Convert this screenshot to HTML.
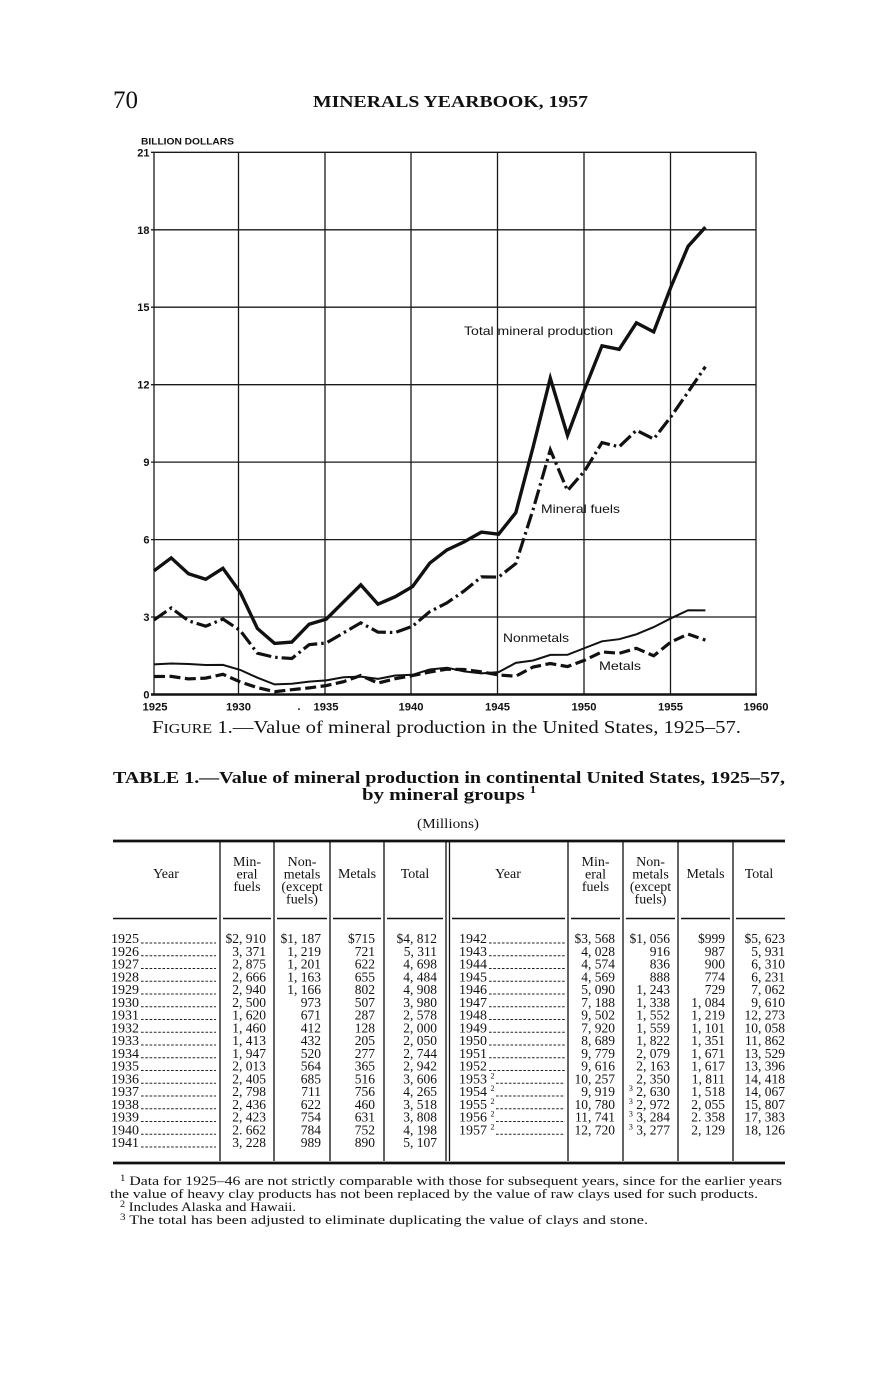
<!DOCTYPE html>
<html><head><meta charset="utf-8"><style>
html,body{margin:0;padding:0;background:#fff;}
svg{display:block;}
.serif{font-family:"Liberation Serif",serif;fill:#111;}
.sans{font-family:"Liberation Sans",sans-serif;fill:#111;}
</style></head><body>
<svg width="872" height="1380" viewBox="0 0 872 1380" xmlns="http://www.w3.org/2000/svg">
<rect width="872" height="1380" fill="#fff"/>
<!-- page header -->
<text class="serif" x="113" y="108" font-size="25">70</text>
<text class="serif" x="313" y="107" font-size="17" font-weight="bold" textLength="275" lengthAdjust="spacingAndGlyphs">MINERALS YEARBOOK, 1957</text>

<!-- chart -->
<text class="sans" x="141" y="144.5" font-size="9.5" font-weight="bold" textLength="93" lengthAdjust="spacingAndGlyphs">BILLION DOLLARS</text>
<g stroke="#1a1a1a" stroke-width="1.3" fill="none">
  <line x1="151" y1="152.3" x2="756" y2="152.3"/>
  <line x1="151" y1="229.8" x2="756" y2="229.8"/>
  <line x1="151" y1="307.2" x2="756" y2="307.2"/>
  <line x1="151" y1="384.7" x2="756" y2="384.7"/>
  <line x1="151" y1="462.1" x2="756" y2="462.1"/>
  <line x1="151" y1="539.6" x2="756" y2="539.6"/>
  <line x1="151" y1="617.0" x2="756" y2="617.0"/>
  <line x1="154" y1="152.3" x2="154" y2="694.5"/>
  <line x1="238.5" y1="152.3" x2="238.5" y2="694.5"/>
  <line x1="325" y1="152.3" x2="325" y2="694.5"/>
  <line x1="411" y1="152.3" x2="411" y2="694.5"/>
  <line x1="497.5" y1="152.3" x2="497.5" y2="694.5"/>
  <line x1="584" y1="152.3" x2="584" y2="694.5"/>
  <line x1="670.5" y1="152.3" x2="670.5" y2="694.5"/>
  <line x1="756" y1="152.3" x2="756" y2="694.5"/>
</g>
<line x1="151" y1="694.5" x2="757" y2="694.5" stroke="#111" stroke-width="2.6"/>
<g class="sans" font-size="11" font-weight="bold" text-anchor="end">
  <text x="149.5" y="156.3">21</text>
  <text x="149.5" y="233.8">18</text>
  <text x="149.5" y="311.2">15</text>
  <text x="149.5" y="388.7">12</text>
  <text x="149.5" y="466.1">9</text>
  <text x="149.5" y="543.6">6</text>
  <text x="149.5" y="621">3</text>
  <text x="149.5" y="698.5">0</text>
</g>
<g class="sans" font-size="11" font-weight="bold" text-anchor="middle">
  <text x="155" y="710.5" textLength="25" lengthAdjust="spacingAndGlyphs">1925</text>
  <text x="238.5" y="710.5" textLength="25" lengthAdjust="spacingAndGlyphs">1930</text>
  <text x="326" y="710.5" textLength="25" lengthAdjust="spacingAndGlyphs">1935</text>
  <text x="411" y="710.5" textLength="25" lengthAdjust="spacingAndGlyphs">1940</text>
  <text x="497.5" y="710.5" textLength="25" lengthAdjust="spacingAndGlyphs">1945</text>
  <text x="584" y="710.5" textLength="25" lengthAdjust="spacingAndGlyphs">1950</text>
  <text x="670.5" y="710.5" textLength="25" lengthAdjust="spacingAndGlyphs">1955</text>
  <text x="756" y="710.5" textLength="25" lengthAdjust="spacingAndGlyphs">1960</text>
  <text x="299" y="710">.</text>
</g>

<g transform="translate(2,1)" fill="none" stroke="#111">
  <polyline stroke-width="3.4" stroke-linejoin="miter" points="152.0,569.8 169.2,556.9 186.5,572.7 203.7,578.3 220.9,567.3 238.2,591.3 255.4,627.5 272.6,642.4 289.8,641.1 307.1,623.2 324.3,618.1 341.5,600.9 358.8,583.9 376.0,603.2 393.2,595.7 410.5,585.6 427.7,562.2 444.9,548.9 462.1,540.9 479.4,531.1 496.6,533.2 513.8,511.7 531.1,446.0 548.3,377.2 565.5,434.4 582.8,387.8 600.0,344.8 617.2,348.3 634.4,321.9 651.7,330.9 668.9,286.0 686.1,245.3 703.4,226.2"/>
  <polyline stroke-width="3.2" stroke-dasharray="15 4 2.5 4" points="152.0,618.9 169.2,607.0 186.5,619.8 203.7,625.2 220.9,618.1 238.2,629.5 255.4,652.2 272.6,656.3 289.8,657.5 307.1,643.7 324.3,642.0 341.5,631.9 358.8,621.8 376.0,631.1 393.2,631.5 410.5,625.3 427.7,610.7 444.9,601.9 462.1,590.0 479.4,575.9 496.6,576.1 513.8,562.6 531.1,508.5 548.3,448.8 565.5,489.6 582.8,469.7 600.0,441.6 617.2,445.8 634.4,429.3 651.7,438.0 668.9,415.8 686.1,391.0 703.4,365.7"/>
  <polyline stroke-width="2" points="152.0,663.4 169.2,662.5 186.5,663.0 203.7,664.0 220.9,663.9 238.2,668.9 255.4,676.7 272.6,683.4 289.8,682.8 307.1,680.6 324.3,679.4 341.5,676.3 358.8,675.6 376.0,677.9 393.2,674.5 410.5,673.8 427.7,668.5 444.9,666.7 462.1,670.4 479.4,672.4 496.6,671.1 513.8,661.9 531.1,659.5 548.3,653.9 565.5,653.8 582.8,647.0 600.0,640.3 617.2,638.2 634.4,633.3 651.7,626.1 668.9,617.3 686.1,609.2 703.4,609.4"/>
  <polyline stroke-width="3.2" stroke-dasharray="11 4.5" points="152.0,675.5 169.2,675.4 186.5,677.9 203.7,677.1 220.9,673.3 238.2,680.9 255.4,686.6 272.6,690.7 289.8,688.7 307.1,686.9 324.3,684.6 341.5,680.7 358.8,674.5 376.0,682.1 393.2,677.7 410.5,674.6 427.7,671.0 444.9,668.2 462.1,668.5 479.4,670.8 496.6,674.0 513.8,675.2 531.1,666.0 548.3,662.5 565.5,665.6 582.8,659.1 600.0,650.9 617.2,652.3 634.4,647.3 651.7,654.8 668.9,641.0 686.1,633.1 703.4,639.1"/>
</g>
<g class="sans" font-size="12">
  <text x="464" y="335" textLength="149" lengthAdjust="spacingAndGlyphs">Total mineral production</text>
  <text x="541" y="513" textLength="79" lengthAdjust="spacingAndGlyphs">Mineral fuels</text>
  <text x="503" y="642" textLength="66" lengthAdjust="spacingAndGlyphs">Nonmetals</text>
  <text x="599" y="670" textLength="42" lengthAdjust="spacingAndGlyphs">Metals</text>
</g>

<!-- caption -->
<text class="serif" x="152" y="733" font-size="17.5" textLength="589" lengthAdjust="spacingAndGlyphs">F<tspan font-size="13.5">IGURE</tspan> 1.—Value of mineral production in the United States, 1925–57.</text>

<!-- table title -->
<text class="serif" x="113" y="783" font-size="17" font-weight="bold" textLength="672" lengthAdjust="spacingAndGlyphs">TABLE 1.—Value of mineral production in continental United States, 1925–57,</text>
<text class="serif" x="362" y="800" font-size="17" font-weight="bold" textLength="174" lengthAdjust="spacingAndGlyphs">by mineral groups <tspan font-size="10" dy="-7">1</tspan></text>
<text class="serif" x="417" y="828" font-size="13.5" textLength="62" lengthAdjust="spacingAndGlyphs">(Millions)</text>

<!-- table rules -->
<g stroke="#111">
  <line x1="113" y1="841" x2="785" y2="841" stroke-width="2.8"/>
  <line x1="113" y1="1163" x2="785" y2="1163" stroke-width="2.8"/>
  <g stroke-width="1.3">
    <line x1="220" y1="842" x2="220" y2="1161"/>
    <line x1="274" y1="842" x2="274" y2="1161"/>
    <line x1="330" y1="842" x2="330" y2="1161"/>
    <line x1="384" y1="842" x2="384" y2="1161"/>
    <line x1="446" y1="842" x2="446" y2="1161"/>
    <line x1="449.5" y1="842" x2="449.5" y2="1161"/>
    <line x1="568" y1="842" x2="568" y2="1161"/>
    <line x1="623" y1="842" x2="623" y2="1161"/>
    <line x1="678" y1="842" x2="678" y2="1161"/>
    <line x1="733" y1="842" x2="733" y2="1161"/>
  </g>
  <path stroke-width="1.5" d="M113 918.5H217 M223 918.5H271 M277 918.5H327 M333 918.5H381 M387 918.5H443 M452 918.5H565 M571 918.5H620 M626 918.5H675 M681 918.5H730 M736 918.5H785"/>
</g>

<!-- headers -->
<g class="serif" font-size="14" text-anchor="middle">
  <text x="166" y="878">Year</text>
  <text x="247" y="866">Min-</text>
  <text x="247" y="878.5">eral</text>
  <text x="247" y="891">fuels</text>
  <text x="302" y="866">Non-</text>
  <text x="302" y="878.5">metals</text>
  <text x="302" y="891">(except</text>
  <text x="302" y="903.5">fuels)</text>
  <text x="357" y="878">Metals</text>
  <text x="415" y="878">Total</text>
  <text x="508" y="878">Year</text>
  <text x="595.5" y="866">Min-</text>
  <text x="595.5" y="878.5">eral</text>
  <text x="595.5" y="891">fuels</text>
  <text x="650.5" y="866">Non-</text>
  <text x="650.5" y="878.5">metals</text>
  <text x="650.5" y="891">(except</text>
  <text x="650.5" y="903.5">fuels)</text>
  <text x="705.5" y="878">Metals</text>
  <text x="759" y="878">Total</text>
</g>

<!-- leaders -->
<path stroke="#222" stroke-width="1.1" stroke-dasharray="2.6 1.7" fill="none" d="
M141 943H216 M141 955.75H216 M141 968.5H216 M141 981.25H216 M141 994H216 M141 1006.75H216 M141 1019.5H216 M141 1032.25H216 M141 1045H216 M141 1057.75H216 M141 1070.5H216 M141 1083.25H216 M141 1096H216 M141 1108.75H216 M141 1121.5H216 M141 1134.25H216 M141 1147H216
M489 943H565 M489 955.75H565 M489 968.5H565 M489 981.25H565 M489 994H565 M489 1006.75H565 M489 1019.5H565 M489 1032.25H565 M489 1045H565 M489 1057.75H565 M489 1070.5H565
M496 1083.25H565 M496 1096H565 M496 1108.75H565 M496 1121.5H565 M496 1134.25H565"/>

<!-- data -->
<g class="serif" font-size="13.5">
  <g font-size="14">
    <text x="111" y="943">1925</text><text x="111" y="955.75">1926</text><text x="111" y="968.5">1927</text><text x="111" y="981.25">1928</text><text x="111" y="994">1929</text><text x="111" y="1006.75">1930</text><text x="111" y="1019.5">1931</text><text x="111" y="1032.25">1932</text><text x="111" y="1045">1933</text><text x="111" y="1057.75">1934</text><text x="111" y="1070.5">1935</text><text x="111" y="1083.25">1936</text><text x="111" y="1096">1937</text><text x="111" y="1108.75">1938</text><text x="111" y="1121.5">1939</text><text x="111" y="1134.25">1940</text><text x="111" y="1147">1941</text>
    <text x="459" y="943">1942</text><text x="459" y="955.75">1943</text><text x="459" y="968.5">1944</text><text x="459" y="981.25">1945</text><text x="459" y="994">1946</text><text x="459" y="1006.75">1947</text><text x="459" y="1019.5">1948</text><text x="459" y="1032.25">1949</text><text x="459" y="1045">1950</text><text x="459" y="1057.75">1951</text><text x="459" y="1070.5">1952</text>
    <text x="459" y="1083.25">1953 <tspan font-size="8" dy="-5">2</tspan></text>
    <text x="459" y="1096">1954 <tspan font-size="8" dy="-5">2</tspan></text>
    <text x="459" y="1108.75">1955 <tspan font-size="8" dy="-5">2</tspan></text>
    <text x="459" y="1121.5">1956 <tspan font-size="8" dy="-5">2</tspan></text>
    <text x="459" y="1134.25">1957 <tspan font-size="8" dy="-5">2</tspan></text>
  </g>
  <g text-anchor="end">
    <text x="266" y="943">$2, 910</text><text x="321" y="943">$1, 187</text><text x="375" y="943">$715</text><text x="437" y="943">$4, 812</text>
    <text x="266" y="955.75">3, 371</text><text x="321" y="955.75">1, 219</text><text x="375" y="955.75">721</text><text x="437" y="955.75">5, 311</text>
    <text x="266" y="968.5">2, 875</text><text x="321" y="968.5">1, 201</text><text x="375" y="968.5">622</text><text x="437" y="968.5">4, 698</text>
    <text x="266" y="981.25">2, 666</text><text x="321" y="981.25">1, 163</text><text x="375" y="981.25">655</text><text x="437" y="981.25">4, 484</text>
    <text x="266" y="994">2, 940</text><text x="321" y="994">1, 166</text><text x="375" y="994">802</text><text x="437" y="994">4, 908</text>
    <text x="266" y="1006.75">2, 500</text><text x="321" y="1006.75">973</text><text x="375" y="1006.75">507</text><text x="437" y="1006.75">3, 980</text>
    <text x="266" y="1019.5">1, 620</text><text x="321" y="1019.5">671</text><text x="375" y="1019.5">287</text><text x="437" y="1019.5">2, 578</text>
    <text x="266" y="1032.25">1, 460</text><text x="321" y="1032.25">412</text><text x="375" y="1032.25">128</text><text x="437" y="1032.25">2, 000</text>
    <text x="266" y="1045">1, 413</text><text x="321" y="1045">432</text><text x="375" y="1045">205</text><text x="437" y="1045">2, 050</text>
    <text x="266" y="1057.75">1, 947</text><text x="321" y="1057.75">520</text><text x="375" y="1057.75">277</text><text x="437" y="1057.75">2, 744</text>
    <text x="266" y="1070.5">2, 013</text><text x="321" y="1070.5">564</text><text x="375" y="1070.5">365</text><text x="437" y="1070.5">2, 942</text>
    <text x="266" y="1083.25">2, 405</text><text x="321" y="1083.25">685</text><text x="375" y="1083.25">516</text><text x="437" y="1083.25">3, 606</text>
    <text x="266" y="1096">2, 798</text><text x="321" y="1096">711</text><text x="375" y="1096">756</text><text x="437" y="1096">4, 265</text>
    <text x="266" y="1108.75">2, 436</text><text x="321" y="1108.75">622</text><text x="375" y="1108.75">460</text><text x="437" y="1108.75">3, 518</text>
    <text x="266" y="1121.5">2, 423</text><text x="321" y="1121.5">754</text><text x="375" y="1121.5">631</text><text x="437" y="1121.5">3, 808</text>
    <text x="266" y="1134.25">2. 662</text><text x="321" y="1134.25">784</text><text x="375" y="1134.25">752</text><text x="437" y="1134.25">4, 198</text>
    <text x="266" y="1147">3, 228</text><text x="321" y="1147">989</text><text x="375" y="1147">890</text><text x="437" y="1147">5, 107</text>

    <text x="615" y="943">$3, 568</text><text x="670" y="943">$1, 056</text><text x="725" y="943">$999</text><text x="785" y="943">$5, 623</text>
    <text x="615" y="955.75">4, 028</text><text x="670" y="955.75">916</text><text x="725" y="955.75">987</text><text x="785" y="955.75">5, 931</text>
    <text x="615" y="968.5">4, 574</text><text x="670" y="968.5">836</text><text x="725" y="968.5">900</text><text x="785" y="968.5">6, 310</text>
    <text x="615" y="981.25">4, 569</text><text x="670" y="981.25">888</text><text x="725" y="981.25">774</text><text x="785" y="981.25">6, 231</text>
    <text x="615" y="994">5, 090</text><text x="670" y="994">1, 243</text><text x="725" y="994">729</text><text x="785" y="994">7, 062</text>
    <text x="615" y="1006.75">7, 188</text><text x="670" y="1006.75">1, 338</text><text x="725" y="1006.75">1, 084</text><text x="785" y="1006.75">9, 610</text>
    <text x="615" y="1019.5">9, 502</text><text x="670" y="1019.5">1, 552</text><text x="725" y="1019.5">1, 219</text><text x="785" y="1019.5">12, 273</text>
    <text x="615" y="1032.25">7, 920</text><text x="670" y="1032.25">1, 559</text><text x="725" y="1032.25">1, 101</text><text x="785" y="1032.25">10, 058</text>
    <text x="615" y="1045">8, 689</text><text x="670" y="1045">1, 822</text><text x="725" y="1045">1, 351</text><text x="785" y="1045">11, 862</text>
    <text x="615" y="1057.75">9, 779</text><text x="670" y="1057.75">2, 079</text><text x="725" y="1057.75">1, 671</text><text x="785" y="1057.75">13, 529</text>
    <text x="615" y="1070.5">9, 616</text><text x="670" y="1070.5">2, 163</text><text x="725" y="1070.5">1, 617</text><text x="785" y="1070.5">13, 396</text>
    <text x="615" y="1083.25">10, 257</text><text x="670" y="1083.25">2, 350</text><text x="725" y="1083.25">1, 811</text><text x="785" y="1083.25">14, 418</text>
    <text x="615" y="1096">9, 919</text><text x="670" y="1096"><tspan font-size="8" dy="-5">3</tspan><tspan dy="5"> 2, 630</tspan></text><text x="725" y="1096">1, 518</text><text x="785" y="1096">14, 067</text>
    <text x="615" y="1108.75">10, 780</text><text x="670" y="1108.75"><tspan font-size="8" dy="-5">3</tspan><tspan dy="5"> 2, 972</tspan></text><text x="725" y="1108.75">2, 055</text><text x="785" y="1108.75">15, 807</text>
    <text x="615" y="1121.5">11, 741</text><text x="670" y="1121.5"><tspan font-size="8" dy="-5">3</tspan><tspan dy="5"> 3, 284</tspan></text><text x="725" y="1121.5">2. 358</text><text x="785" y="1121.5">17, 383</text>
    <text x="615" y="1134.25">12, 720</text><text x="670" y="1134.25"><tspan font-size="8" dy="-5">3</tspan><tspan dy="5"> 3, 277</tspan></text><text x="725" y="1134.25">2, 129</text><text x="785" y="1134.25">18, 126</text>
  </g>
</g>

<!-- footnotes -->
<g class="serif" font-size="13">
  <text x="120" y="1185" textLength="662" lengthAdjust="spacingAndGlyphs"><tspan font-size="9" dy="-4">1</tspan><tspan font-size="13" dy="4"> Data for 1925–46 are not strictly comparable with those for subsequent years, since for the earlier years</tspan></text>
  <text x="110" y="1198" textLength="648" lengthAdjust="spacingAndGlyphs">the value of heavy clay products has not been replaced by the value of raw clays used for such products.</text>
  <text x="120" y="1211" textLength="176" lengthAdjust="spacingAndGlyphs"><tspan font-size="9" dy="-4">2</tspan><tspan font-size="13" dy="4"> Includes Alaska and Hawaii.</tspan></text>
  <text x="120" y="1224" textLength="528" lengthAdjust="spacingAndGlyphs"><tspan font-size="9" dy="-4">3</tspan><tspan font-size="13" dy="4"> The total has been adjusted to eliminate duplicating the value of clays and stone.</tspan></text>
</g>
</svg>
</body></html>
